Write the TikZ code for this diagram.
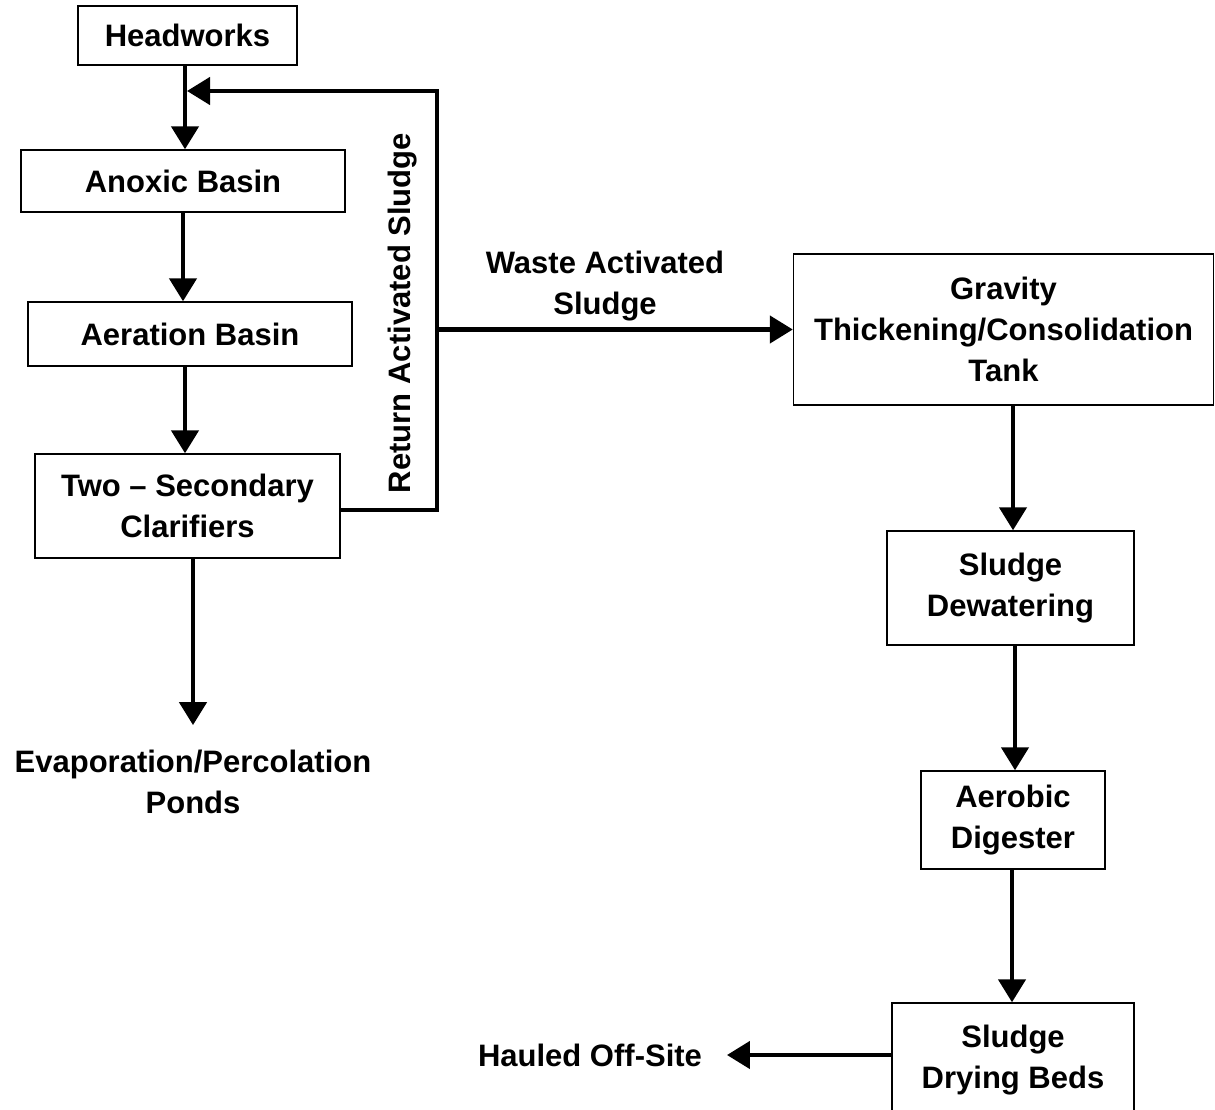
\documentclass[tikz,border=0pt]{standalone}
\usepackage{fontspec}
\setmainfont{Liberation Sans}
\usetikzlibrary{arrows.meta}

\begin{document}
\begin{tikzpicture}[x=1pt, y=-1pt,
    every node/.style={font=\fontsize{31}{41}\selectfont\bfseries, align=center},
    unit/.style={draw, line width=1.4pt, inner sep=0pt},
    flow/.style={line width=4.5pt, -{Triangle[length=23pt,width=27pt]}},
    endtext/.style={inner sep=0pt, outer sep=25pt}]

    % Page size of the reference
    \useasboundingbox (0,0) rectangle (1215,1110);

    % x-position of the return line
    \def\xRet{437}
    \def\yRet{91}

    % Liquid train (left column)
    \node[unit, minimum width=219pt, minimum height=59pt] (head) at (187.5,35.5) {Headworks};
    \node[unit, minimum width=324pt, minimum height=62pt] (anoxic) at (183,181) {Anoxic Basin};
    \node[unit, minimum width=324pt, minimum height=64pt] (aeration) at (190,334) {Aeration Basin};
    \node[unit, minimum width=305pt, minimum height=104pt] (clarif) at (187.5,506) {Two -- Secondary\\Clarifiers};
    \node[endtext] (ponds) at (193,782) {Evaporation/Percolation\\Ponds};

    % Solids train (right column)
    \node[unit, minimum width=420pt, minimum height=151pt] (gravity) at (1003.5,329.5) {Gravity\\Thickening/Consolidation\\Tank};
    \node[unit, minimum width=247pt, minimum height=114pt] (dewater) at (1010.5,588) {Sludge\\Dewatering};
    \node[unit, minimum width=184pt, minimum height=98pt] (aerobic) at (1013,820) {Aerobic\\Digester};
    \node[unit, minimum width=242pt, minimum height=114pt] (drying) at (1013,1060) {Sludge\\Drying Beds};
    \node[endtext] (hauled) at (590,1055) {Hauled Off-Site};

    % Line labels
    \node (waslabel) at (605,286) {Waste Activated\\Sludge};
    \node[rotate=90] (raslabel) at (403,313) {Return Activated Sludge};

    % Return / waste split point
    \coordinate (ret) at (\xRet,\yRet);

    % Liquid train arrows
    \draw[flow] (head.south -| 185,0) -- (anoxic.north -| 185,0);
    \draw[flow] (anoxic.south) -- (anoxic.south |- aeration.north);
    \draw[flow] (aeration.south -| 185,0) -- (clarif.north -| 185,0);
    \draw[flow] (clarif.south -| ponds) -- (ponds.north);

    % Return activated sludge loop
    \draw[flow] ([yshift=-4pt]clarif.east) -| (ret) -- (ret -| 187,0);

    % Waste activated sludge to thickening
    \draw[flow] (ret |- gravity.west) -- (gravity.west);

    % Solids train arrows
    \draw[flow] (gravity.south -| 1013,0) -- (dewater.north -| 1013,0);
    \draw[flow] (dewater.south -| 1015,0) -- (aerobic.north -| 1015,0);
    \draw[flow] (aerobic.south -| 1012,0) -- (drying.north -| 1012,0);
    \draw[flow] (drying.west |- hauled) -- (hauled.east);

\end{tikzpicture}
\end{document}
